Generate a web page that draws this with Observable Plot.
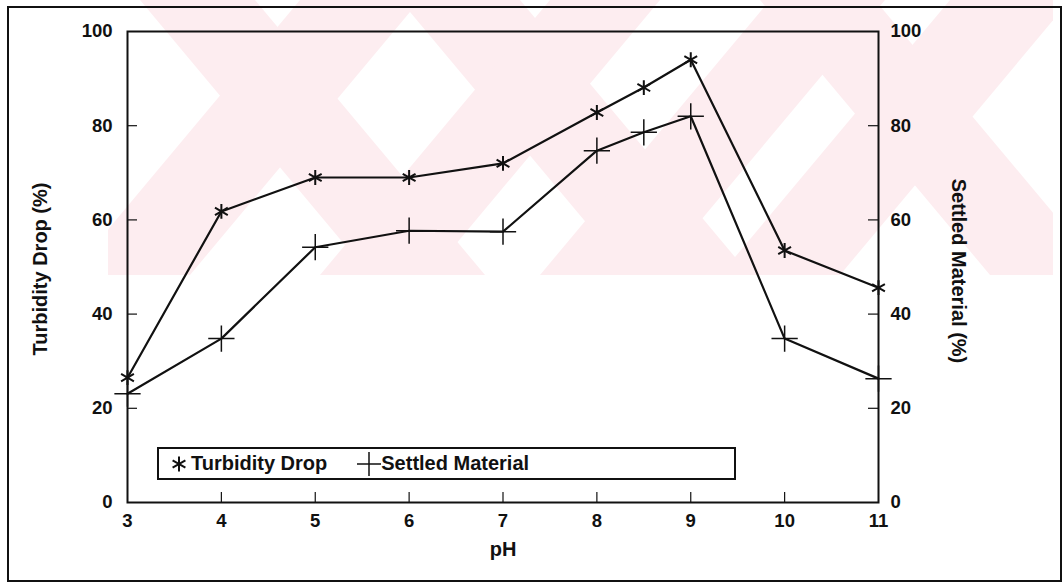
<!DOCTYPE html>
<html>
<head>
<meta charset="utf-8">
<script src="https://cdn.jsdelivr.net/npm/d3@7"></script>
<script src="https://cdn.jsdelivr.net/npm/@observablehq/plot@0.6"></script>
<style>
  html, body { margin: 0; padding: 0; background: #fff; }
  #wrap { position: relative; width: 1062px; height: 582px; overflow: hidden; font-family: "Liberation Sans", Arial, sans-serif; font-weight: bold; }
  #bg { position: absolute; left: 0; top: 0; }
  #chart { position: absolute; left: 0; top: 0; }
  #outer { position: absolute; left: 7px; top: 6px; width: 1051px; height: 572px; border: 2px solid #111; box-sizing: content-box; pointer-events: none; }
  #legend { position: absolute; left: 157px; top: 447px; width: 575px; height: 29px; border: 2px solid #111; background: #fff; display: flex; align-items: center; font-size: 20px; color: #111; }
  #legend .item { display: flex; align-items: center; margin-right: 30px; }
  #legend svg { display: block; }
</style>
</head>
<body>
<div id="wrap">
  <svg id="bg" width="1062" height="582"></svg>
  <div id="chart"></div>
  <div id="legend"></div>
  <div id="outer"></div>
</div>
<script>
// ---- data ----
const ph = [3, 4, 5, 6, 7, 8, 8.5, 9, 10, 11];
const turbidityDrop = [26.5, 61.8, 69, 69, 72, 82.8, 88.1, 94, 53.5, 45.6];
const settledMaterial = [23.1, 34.8, 54.2, 57.7, 57.5, 74.7, 78.6, 82, 34.8, 26.3];
const xTicks = [3, 4, 5, 6, 7, 8, 9, 10, 11];
const yTicks = [0, 20, 40, 60, 80, 100];
const seriesNames = ["Turbidity Drop", "Settled Material"];
const seriesSymbols = ["asterisk", "plus"];
const xLabel = "pH";
const yLabelLeft = "Turbidity Drop (%)";
const yLabelRight = "Settled Material (%)";

// ---- layout ----
const W = 1062, H = 582;
const mL = 127, mR = 184, mT = 31, mB = 80;
const innerW = W - mL - mR, innerH = H - mT - mB;
const tickLen = 10;

// ---- faint background watermark (decoration of the scanned page) ----
(function watermark() {
  const bg = d3.select("#bg");
  const top = 0, bot = 275, run = 230, pink = "#fdedf0";
  bg.append("clipPath").attr("id", "wm").append("rect")
    .attr("x", 108).attr("y", top).attr("width", 945).attr("height", bot - top);
  const g = bg.append("g").attr("clip-path", "url(#wm)").attr("fill", pink);
  const back = [[140, 115], [400, 120], [760, 115]];          // "\" bands: top-left x, width
  const fwd = [[70, 120], [320, 110], [540, 115], [720, 120]]; // "/" bands: bottom-left x, width
  back.forEach(([t, w]) => g.append("polygon")
    .attr("points", `${t},${top} ${t + w},${top} ${t + w + run},${bot} ${t + run},${bot}`));
  fwd.forEach(([b, w]) => g.append("polygon")
    .attr("points", `${b},${bot} ${b + w},${bot} ${b + w + run},${top} ${b + run},${top}`));
})();

const turb = ph.map((x, i) => ({x, y: turbidityDrop[i]}));
const sett = ph.map((x, i) => ({x, y: settledMaterial[i]}));

const font = {fontFamily: "'Liberation Sans', Arial, sans-serif", fontWeight: "bold"};

const chart = Plot.plot({
  width: W, height: H,
  marginLeft: mL, marginRight: mR, marginTop: mT, marginBottom: mB,
  style: {...font, background: "transparent", color: "#111", overflow: "visible"},
  x: {domain: [3, 11]},
  y: {domain: [0, 100]},
  marks: [
    Plot.frame({stroke: "#111", strokeWidth: 2}),
    // inward ticks
    Plot.ruleX(xTicks.filter(d => d > 3 && d < 11), {y1: 100, y2: 0, insetTop: innerH - tickLen, stroke: "#111", strokeWidth: 1.2}),
    Plot.ruleY(yTicks.filter(d => d > 0 && d < 100), {x1: 3, x2: 11, insetRight: innerW - tickLen, stroke: "#111", strokeWidth: 1.2}),
    Plot.ruleY(yTicks.filter(d => d > 0 && d < 100), {x1: 3, x2: 11, insetLeft: innerW - tickLen, stroke: "#111", strokeWidth: 1.2}),
    // tick labels
    Plot.axisX({ticks: xTicks, tickSize: 0, tickPadding: 11, fontSize: 18.5, label: null, tickFormat: d => String(d)}),
    Plot.axisY({anchor: "left", ticks: yTicks, tickSize: 0, tickPadding: 15, fontSize: 18.5, label: null}),
    Plot.axisY({anchor: "right", ticks: yTicks, tickSize: 0, tickPadding: 12, fontSize: 18.5, label: null}),
    // axis titles
    Plot.text([yLabelLeft], {frameAnchor: "left", textAnchor: "middle", lineAnchor: "middle", rotate: -90, dx: -87, dy: 2, fontSize: 20, fill: "#111"}),
    Plot.text([yLabelRight], {frameAnchor: "right", textAnchor: "middle", lineAnchor: "middle", rotate: 90, dx: 80, dy: 4, fontSize: 20, fill: "#111"}),
    Plot.text([xLabel], {frameAnchor: "bottom", textAnchor: "middle", lineAnchor: "middle", dy: 47, fontSize: 20, fill: "#111"}),
    // series
    Plot.line(turb, {x: "x", y: "y", stroke: "#111", strokeWidth: 2.2}),
    Plot.line(sett, {x: "x", y: "y", stroke: "#111", strokeWidth: 2.2}),
    Plot.dot(turb, {x: "x", y: "y", symbol: seriesSymbols[0], r: 7, stroke: "#111", strokeWidth: 2}),
    Plot.dot(sett, {x: "x", y: "y", symbol: seriesSymbols[1], r: 8.5, stroke: "#111", strokeWidth: 1.5})
  ]
});
document.getElementById("chart").appendChild(chart);

// ---- legend ----
const symMap = {asterisk: d3.symbolAsterisk, plus: d3.symbolPlus};
const legend = d3.select("#legend");
legend.append("div").style("width", "8px");
seriesNames.forEach((name, i) => {
  const item = legend.append("div").attr("class", "item");
  const svg = item.append("svg").attr("width", 24).attr("height", 24);
  const size = i === 0 ? Math.PI * 7 * 7 : Math.PI * 8.5 * 8.5;
  svg.append("path")
    .attr("transform", "translate(12,12)")
    .attr("d", d3.symbol(symMap[seriesSymbols[i]], size)())
    .attr("fill", "none").attr("stroke", "#111").attr("stroke-width", i === 0 ? 2 : 1.5);
  item.append("span").text(name);
});
</script>
</body>
</html>
